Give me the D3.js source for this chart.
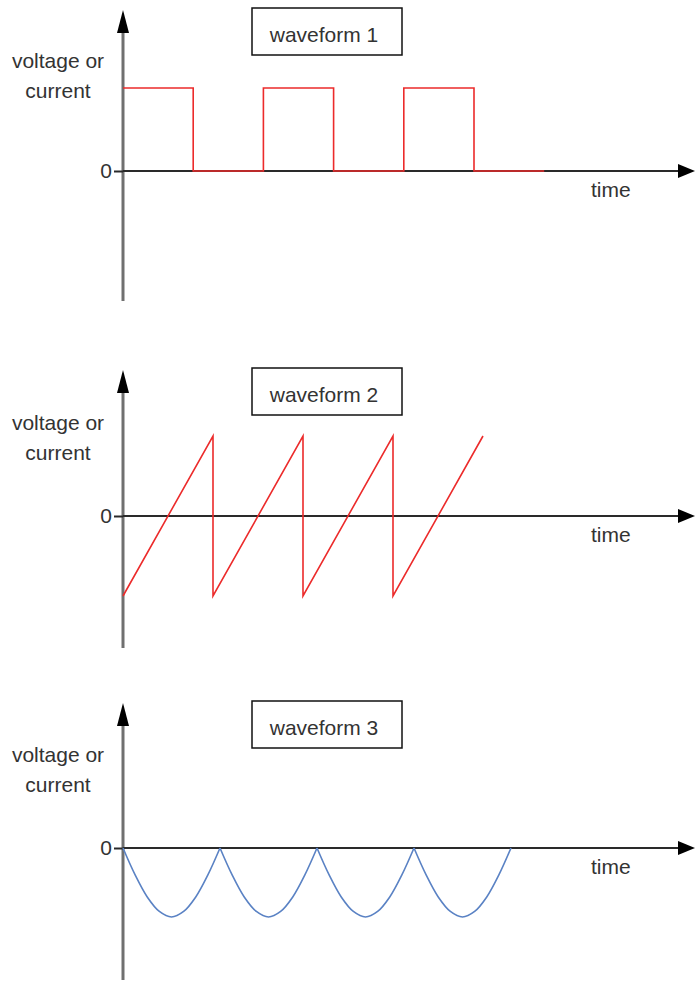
<!DOCTYPE html>
<html>
<head>
<meta charset="utf-8">
<script src="https://cdn.jsdelivr.net/npm/d3@7"></script>
<style>
  body { margin:0; background:#fff; }
  text { font-family:"Liberation Sans", Arial, sans-serif; font-size:21px; fill:#333; }
</style>
</head>
<body>
<div id="stage"></div>
<script>

// chart text
var titles=["waveform 1","waveform 2","waveform 3"];
var yLabel=["voltage or","current"];
var xLabel="time";
var zeroTick=[0];

// waveform 1 : square wave (time units, level)
var squareT=[0,1,1,2,2,3,3,4,4,5,5,6];
var squareV=[1,1,0,0,1,1,0,0,1,1,0,0];

// waveform 2 : sawtooth
var sawT=[0,1,1,2,2,3,3,4];
var sawV=[-1,1,-1,1,-1,1,-1,1];

// waveform 3 : one arch of the rectified wave, repeated
var archT=[0,0.125,0.25,0.375,0.5,0.625,0.75,0.875,1];
var archV=[0,-0.39,-0.71,-0.92,-1,-0.92,-0.71,-0.39,0];
var archStart=[0,1,2,3];

// layout of the three panels
var panels=[
  {zero:171, top:10,  bottom:301, unit:70.2, amp:83, boxY:8,   labY:[68,98],   colour:"#ec2b2b"},
  {zero:516, top:370, bottom:648, unit:90,   amp:80, boxY:368, labY:[430,460], colour:"#ec2b2b"},
  {zero:848, top:703, bottom:980, unit:97,   amp:69, boxY:701, labY:[762,792], colour:"#5a82c4"}
];
var x0=123, xEnd=695;

var svg=d3.select("#stage").append("svg")
  .attr("width",695).attr("height",981);

var series=[
  [squareT.map(function(t,i){return [t,squareV[i]]})],
  [sawT.map(function(t,i){return [t,sawV[i]]})],
  archStart.map(function(s){
    return archT.map(function(t,i){return [s+t,archV[i]]})
  })
];

panels.forEach(function(p,k){
  var g=svg.append("g");
  var x=d3.scaleLinear().domain([0,1]).range([x0,x0+p.unit]);
  var y=d3.scaleLinear().domain([-1,1]).range([p.zero+p.amp,p.zero-p.amp]);

  // vertical axis (grey)
  g.append("line")
    .attr("x1",x0).attr("x2",x0)
    .attr("y1",p.top+18).attr("y2",p.bottom)
    .attr("stroke","#707070").attr("stroke-width",3);

  // horizontal axis (dark)
  g.append("line")
    .attr("x1",x0).attr("x2",xEnd-12)
    .attr("y1",p.zero).attr("y2",p.zero)
    .attr("stroke","#2a2a2a").attr("stroke-width",2);

  // zero tick + label
  var ax=g.append("g").attr("transform","translate("+x0+",0)")
    .call(d3.axisLeft(y).tickValues(zeroTick).tickSize(9).tickPadding(2)
      .tickFormat(function(){return "0"}));
  ax.select(".domain").remove();
  ax.selectAll(".tick line").attr("stroke","#2a2a2a").attr("stroke-width",2);
  ax.selectAll(".tick text")
    .style("font-family","'Liberation Sans', Arial, sans-serif")
    .style("font-size","21px").attr("fill","#333");

  // waveform
  var line=d3.line()
    .x(function(d){return x(d[0])})
    .y(function(d){return y(d[1])})
    .curve(k==2 ? d3.curveCatmullRom : d3.curveLinear);
  g.selectAll("path.wave")
    .data(series[k])
    .enter().append("path")
    .attr("class","wave")
    .attr("d",line)
    .attr("fill","none")
    .attr("stroke",p.colour)
    .attr("stroke-width",1.6);

  // arrow heads
  g.append("path")
    .attr("d","M"+x0+","+p.top+"L"+(x0-6)+","+(p.top+23)+"L"+(x0+6)+","+(p.top+23)+"Z")
    .attr("fill","#000");
  g.append("path")
    .attr("d","M"+xEnd+","+p.zero+"L"+(xEnd-17)+","+(p.zero-7)+"L"+(xEnd-17)+","+(p.zero+7)+"Z")
    .attr("fill","#000");

  // axis captions
  yLabel.forEach(function(s,i){
    g.append("text").attr("x",58).attr("y",p.labY[i])
      .attr("text-anchor","middle").text(s);
  });
  g.append("text").attr("x",591).attr("y",p.zero+26).text(xLabel);

  // title box
  g.append("rect")
    .attr("x",252).attr("y",p.boxY)
    .attr("width",150).attr("height",47)
    .attr("fill","#fff").attr("stroke","#111").attr("stroke-width",1.5);
  g.append("text").attr("x",324).attr("y",p.boxY+34)
    .attr("text-anchor","middle").text(titles[k]);
});

</script>
</body>
</html>
